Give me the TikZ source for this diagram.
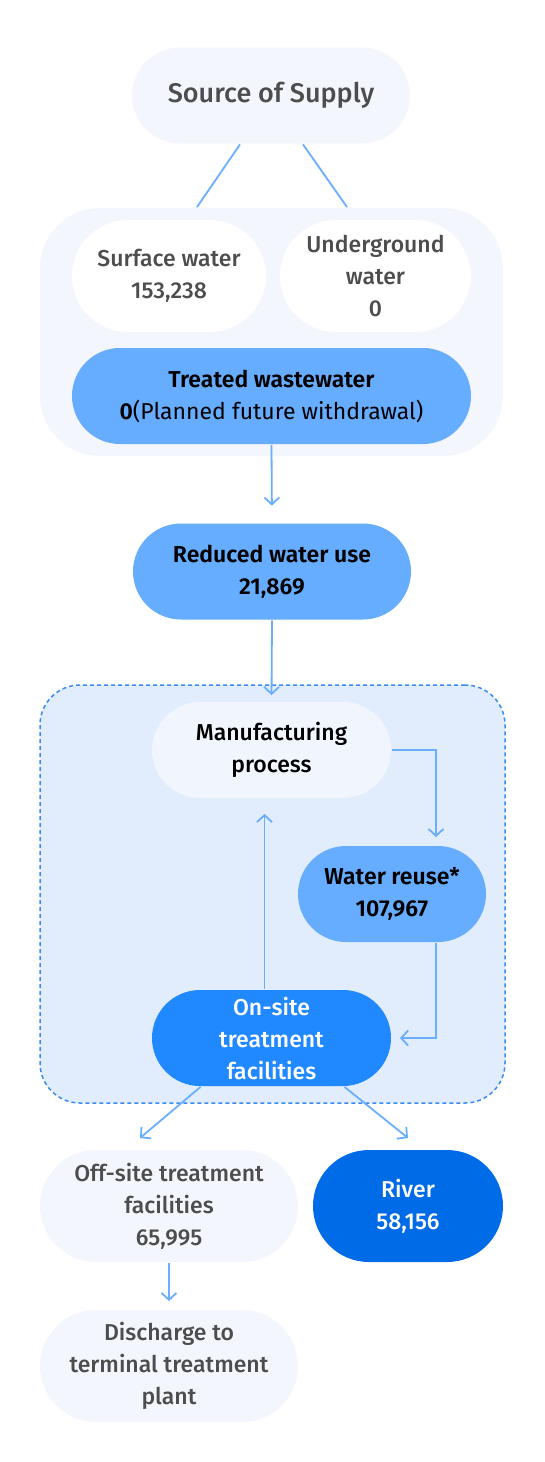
\documentclass[tikz,border=0pt]{standalone}
\usepackage{fontspec}
\setmainfont{Fira Sans}[UprightFont={* Medium},BoldFont={* SemiBold}]
\newfontfamily\plainfont{Fira Sans}
\usetikzlibrary{calc, arrows, arrows.meta}
\definecolor{paleblue}{HTML}{F3F6FC}
\definecolor{manblue}{HTML}{F1F6FE}
\definecolor{dashbg}{HTML}{E1EDFD}
\definecolor{dashline}{HTML}{3B8CF0}
\definecolor{midblue}{HTML}{66ADFF}
\definecolor{onblue}{HTML}{2189FF}
\definecolor{riverblue}{HTML}{006BE6}
\definecolor{lineblue}{HTML}{6AAEFF}
\definecolor{greytext}{HTML}{4D4D4D}

\begin{document}
\begin{tikzpicture}[x=1pt,y=-1pt,->,>={Straight Barb[length=7pt,width=15pt]},line width=1.8pt,draw=lineblue,
every node/.style={shape=rectangle,align=center,inner sep=0pt,font=\fontsize{23}{32}\selectfont},
pill/.style={rounded corners=48pt,minimum height=96pt},
fat/.style={rounded corners=56pt,minimum height=112pt},
%light nodes have grey text
soft/.style={text=greytext}
]
\useasboundingbox (0,0) rectangle (544,1462);

% backgrounds
\node [rounded corners=60pt,fill=paleblue,minimum width=463pt,minimum height=248pt] (nBox) at (271.5,332) {};
\node [rounded corners=40pt,fill=dashbg,draw=dashline,line width=1.5pt,dash pattern=on 4pt off 3pt,minimum width=465pt,minimum height=418pt] (nDash) at (272.5,894) {};

% supply
\node [pill,soft,fill=paleblue,minimum width=278pt,font=\fontsize{27}{32}\selectfont] (nSrc) at (271,95.5) {Source of Supply};
\node [fat,soft,fill=white,minimum width=194pt] (nSurf) at (169,276) {Surface water\\153,238};
\node [fat,soft,fill=white,minimum width=191pt] (nUnder) at (375.5,276) {Underground\\water\\0};
\node [pill,fill=midblue,minimum width=399pt] (nTreat) at (271.5,396) {\textbf{Treated wastewater}\\\textbf{0}{\plainfont(Planned future withdrawal)}};
\node [pill,fill=midblue,minimum width=278pt,font=\fontsize{23}{32}\selectfont\bfseries] (nRed) at (272,571.5) {Reduced water use\\21,869};

% process loop
\node [pill,fill=manblue,minimum width=239pt] (nMan) at (271.5,750) {Manufacturing\\process};
\node [pill,fill=midblue,minimum width=188pt,font=\fontsize{23}{32}\selectfont\bfseries] (nReuse) at (392,894) {Water reuse*\\107,967};
\node [pill,fill=onblue,text=white,minimum width=239pt] (nOn) at (271.5,1038) {On-site\\treatment\\facilities};

% discharge
\node [fat,soft,fill=paleblue,minimum width=258pt] (nOff) at (169,1206) {Off-site treatment\\facilities\\65,995};
\node [fat,fill=riverblue,text=white,minimum width=190pt] (nRiv) at (408,1206) {River\\58,156};
\node [fat,soft,fill=paleblue,minimum width=258pt] (nDis) at (169,1366) {Discharge to\\terminal treatment\\plant};

\coordinate (tOff) at (140,1138);
\coordinate (tRiv) at (408,1138);

\draw [-] ([xshift=-31pt]nSrc.south) -- ([xshift=-74.5pt]nBox.north);
\draw [-] ([xshift=32pt]nSrc.south) -- ([xshift=75.5pt]nBox.north);
\draw [shorten >=17pt] (nTreat.south) -- (nRed.north);
\draw [shorten >=6pt] (nRed.south) -- (nMan.north);
\draw [shorten >=8pt] (nMan.east) -| ([xshift=44pt]nReuse.north);
\draw [shorten >=8pt] ([xshift=44pt]nReuse.south) |- (nOn.east);
\draw [shorten >=15pt] ([xshift=-7pt]nOn.north) -- ([xshift=-7pt]nMan.south);
\draw ([xshift=-71pt]nOn.south) -- (tOff);
\draw ([xshift=73pt]nOn.south) -- (tRiv);
\draw [shorten >=8pt] (nOff.south) -- (nDis.north);

\end{tikzpicture}
\end{document}
